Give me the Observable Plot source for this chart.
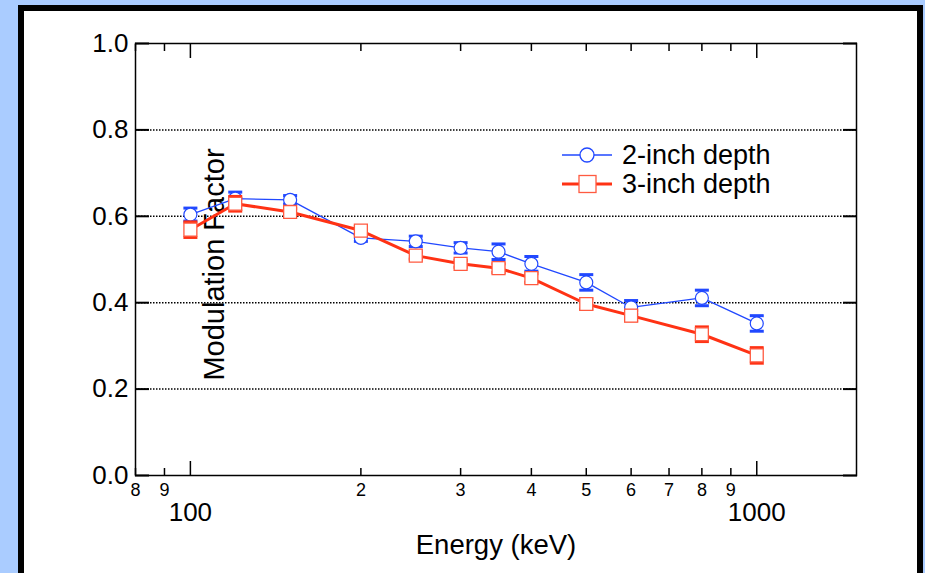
<!DOCTYPE html>
<html>
<head>
<meta charset="utf-8">
<script src="https://cdn.jsdelivr.net/npm/d3@7"></script>
<script src="https://cdn.jsdelivr.net/npm/@observablehq/plot@0.6"></script>
<style>
  html, body { margin: 0; padding: 0; }
  body { width: 925px; height: 573px; overflow: hidden; background: #aaccff; position: relative; font-family: "Liberation Sans", Arial, sans-serif; }
  #frame { position: absolute; left: 18px; top: 5px; width: 893px; height: 620px; background: #fff; border: 6px solid #000; }
  #chart { position: absolute; left: 0; top: 0; }
  #legend { position: absolute; left: 0; top: 0; }
</style>
</head>
<body>
<div id="frame"></div>
<div id="chart"></div>
<div id="legend"></div>
<script>
// ---- data ----
const energy = [100, 120, 150, 200, 250, 300, 350, 400, 500, 600, 800, 1000];
const mf2 = [0.604, 0.641, 0.638, 0.550, 0.542, 0.527, 0.518, 0.490, 0.447, 0.389, 0.411, 0.352];
const err2 = [0.015, 0.015, 0.010, 0.008, 0.012, 0.012, 0.018, 0.017, 0.018, 0.016, 0.018, 0.018];
const mf3 = [0.569, 0.629, 0.610, 0.567, 0.509, 0.490, 0.480, 0.457, 0.397, 0.370, 0.327, 0.278];
const err3 = [0.018, 0.017, 0.008, 0.010, 0.008, 0.008, 0.010, 0.010, 0.012, 0.012, 0.017, 0.018];
const seriesNames = ["2-inch depth", "3-inch depth"];
const yTicks = [0, 0.2, 0.4, 0.6, 0.8, 1.0];
const gridVals = [0.2, 0.4, 0.6, 0.8];
const majorX = [100, 1000];
const majorLabels = ["100", "1000"];
const minorX = [80, 90, 200, 300, 400, 500, 600, 700, 800, 900];
const minorLabels = ["8", "9", "2", "3", "4", "5", "6", "7", "8", "9"];
const xTitle = "Energy (keV)";
const yTitle = "Modulation Factor";

const BLUE = "#2148ff";
const RED = "#ff3214";

const s2 = energy.map((e, i) => ({e, v: mf2[i], err: err2[i]}));
const s3 = energy.map((e, i) => ({e, v: mf3[i], err: err3[i]}));
const caps = s => s.flatMap(d => [{e: d.e, v: d.v + d.err}, {e: d.e, v: d.v - d.err}]);

const hline = {draw(ctx) { ctx.moveTo(-7, 0); ctx.lineTo(7, 0); }};

const font = "Liberation Sans, Arial, sans-serif";

const plot = Plot.plot({
  width: 925,
  height: 573,
  marginLeft: 135,
  marginRight: 69,
  marginTop: 43,
  marginBottom: 98,
  style: {background: "transparent", fontFamily: font, color: "black", overflow: "visible"},
  x: {type: "log", domain: [80, 1500]},
  y: {domain: [0, 1]},
  marks: [
    Plot.ruleY(gridVals, {stroke: "black", strokeWidth: 1.5, strokeDasharray: "1.5,1.5"}),
    // y ticks (inward) both sides
    Plot.axisY(yTicks, {anchor: "left", tickSize: -14, strokeWidth: 2, fill: "none", label: null}),
    Plot.axisY(yTicks, {anchor: "right", tickSize: -14, strokeWidth: 2, fill: "none", label: null}),
    Plot.axisY(yTicks, {anchor: "left", tickSize: 0, tickPadding: 7, fontSize: 26, tickFormat: d => d.toFixed(1), label: null}),
    // x ticks (inward) bottom & top
    Plot.axisX(minorX, {anchor: "bottom", tickSize: -7, strokeWidth: 1.5, fill: "none", label: null}),
    Plot.axisX(majorX, {anchor: "bottom", tickSize: -14, strokeWidth: 1.5, fill: "none", label: null}),
    Plot.axisX(minorX, {anchor: "top", tickSize: -7, strokeWidth: 1.5, fill: "none", label: null}),
    Plot.axisX(majorX, {anchor: "top", tickSize: -14, strokeWidth: 1.5, fill: "none", label: null}),
    // x tick labels
    Plot.text(minorX, {x: d => d, text: (d, i) => minorLabels[i], frameAnchor: "bottom", lineAnchor: "top", dy: 8, fontSize: 18, fill: "black"}),
    Plot.text(majorX, {x: d => d, text: (d, i) => majorLabels[i], frameAnchor: "bottom", lineAnchor: "top", dy: 27, fontSize: 26, fill: "black"}),
    Plot.frame({stroke: "black", strokeWidth: 1.5}),
    // titles
    Plot.text([xTitle], {frameAnchor: "bottom", textAnchor: "middle", dy: 70, lineAnchor: "middle", fontSize: 27.5, fill: "black"}),
    Plot.text([yTitle], {frameAnchor: "left", textAnchor: "middle", rotate: -90, dx: 79, dy: 5, lineAnchor: "middle", fontSize: 29, fill: "black"}),
    // 2-inch series
    Plot.line(s2, {x: "e", y: "v", stroke: BLUE, strokeWidth: 1.3}),
    Plot.ruleX(s2, {x: "e", y1: d => d.v - d.err, y2: d => d.v + d.err, stroke: BLUE, strokeWidth: 1}),
    Plot.dot(caps(s2), {x: "e", y: "v", symbol: hline, stroke: BLUE, strokeWidth: 3}),
    Plot.dot(s2, {x: "e", y: "v", r: 6.5, fill: "white", stroke: BLUE, strokeWidth: 1.2}),
    // 3-inch series
    Plot.line(s3, {x: "e", y: "v", stroke: RED, strokeWidth: 3}),
    Plot.ruleX(s3, {x: "e", y1: d => d.v - d.err, y2: d => d.v + d.err, stroke: RED, strokeWidth: 1}),
    Plot.dot(caps(s3), {x: "e", y: "v", symbol: hline, stroke: RED, strokeWidth: 3}),
    Plot.dot(s3, {x: "e", y: "v", symbol: "square", r: 7.3, fill: "white", stroke: "#ff5a40", strokeWidth: 1.3})
  ]
});
document.getElementById("chart").appendChild(plot);

// legend
const ns = "http://www.w3.org/2000/svg";
const lg = document.createElementNS(ns, "svg");
lg.setAttribute("width", 925);
lg.setAttribute("height", 573);
lg.setAttribute("style", "overflow:visible");
const items = [
  {name: seriesNames[0], color: BLUE, y: 155, shape: "circle"},
  {name: seriesNames[1], color: RED, y: 184, shape: "square"}
];
for (const it of items) {
  const ln = document.createElementNS(ns, "line");
  ln.setAttribute("x1", 562); ln.setAttribute("x2", 612);
  ln.setAttribute("y1", it.y); ln.setAttribute("y2", it.y);
  ln.setAttribute("stroke", it.color);
  ln.setAttribute("stroke-width", it.shape === "circle" ? 1.3 : 3);
  lg.appendChild(ln);
  let m;
  if (it.shape === "circle") {
    m = document.createElementNS(ns, "circle");
    m.setAttribute("cx", 587); m.setAttribute("cy", it.y); m.setAttribute("r", 7);
    m.setAttribute("stroke", it.color);
  } else {
    m = document.createElementNS(ns, "rect");
    m.setAttribute("x", 579); m.setAttribute("y", it.y - 8.5);
    m.setAttribute("width", 17); m.setAttribute("height", 17);
    m.setAttribute("stroke", "#ff5a40");
  }
  m.setAttribute("fill", "white");
  m.setAttribute("stroke-width", 1.3);
  lg.appendChild(m);
  const t = document.createElementNS(ns, "text");
  t.setAttribute("x", 622); t.setAttribute("y", it.y);
  t.setAttribute("dy", "0.35em");
  t.setAttribute("font-size", 27);
  t.setAttribute("font-family", font);
  t.textContent = it.name;
  lg.appendChild(t);
}
document.getElementById("legend").appendChild(lg);
</script>
</body>
</html>
